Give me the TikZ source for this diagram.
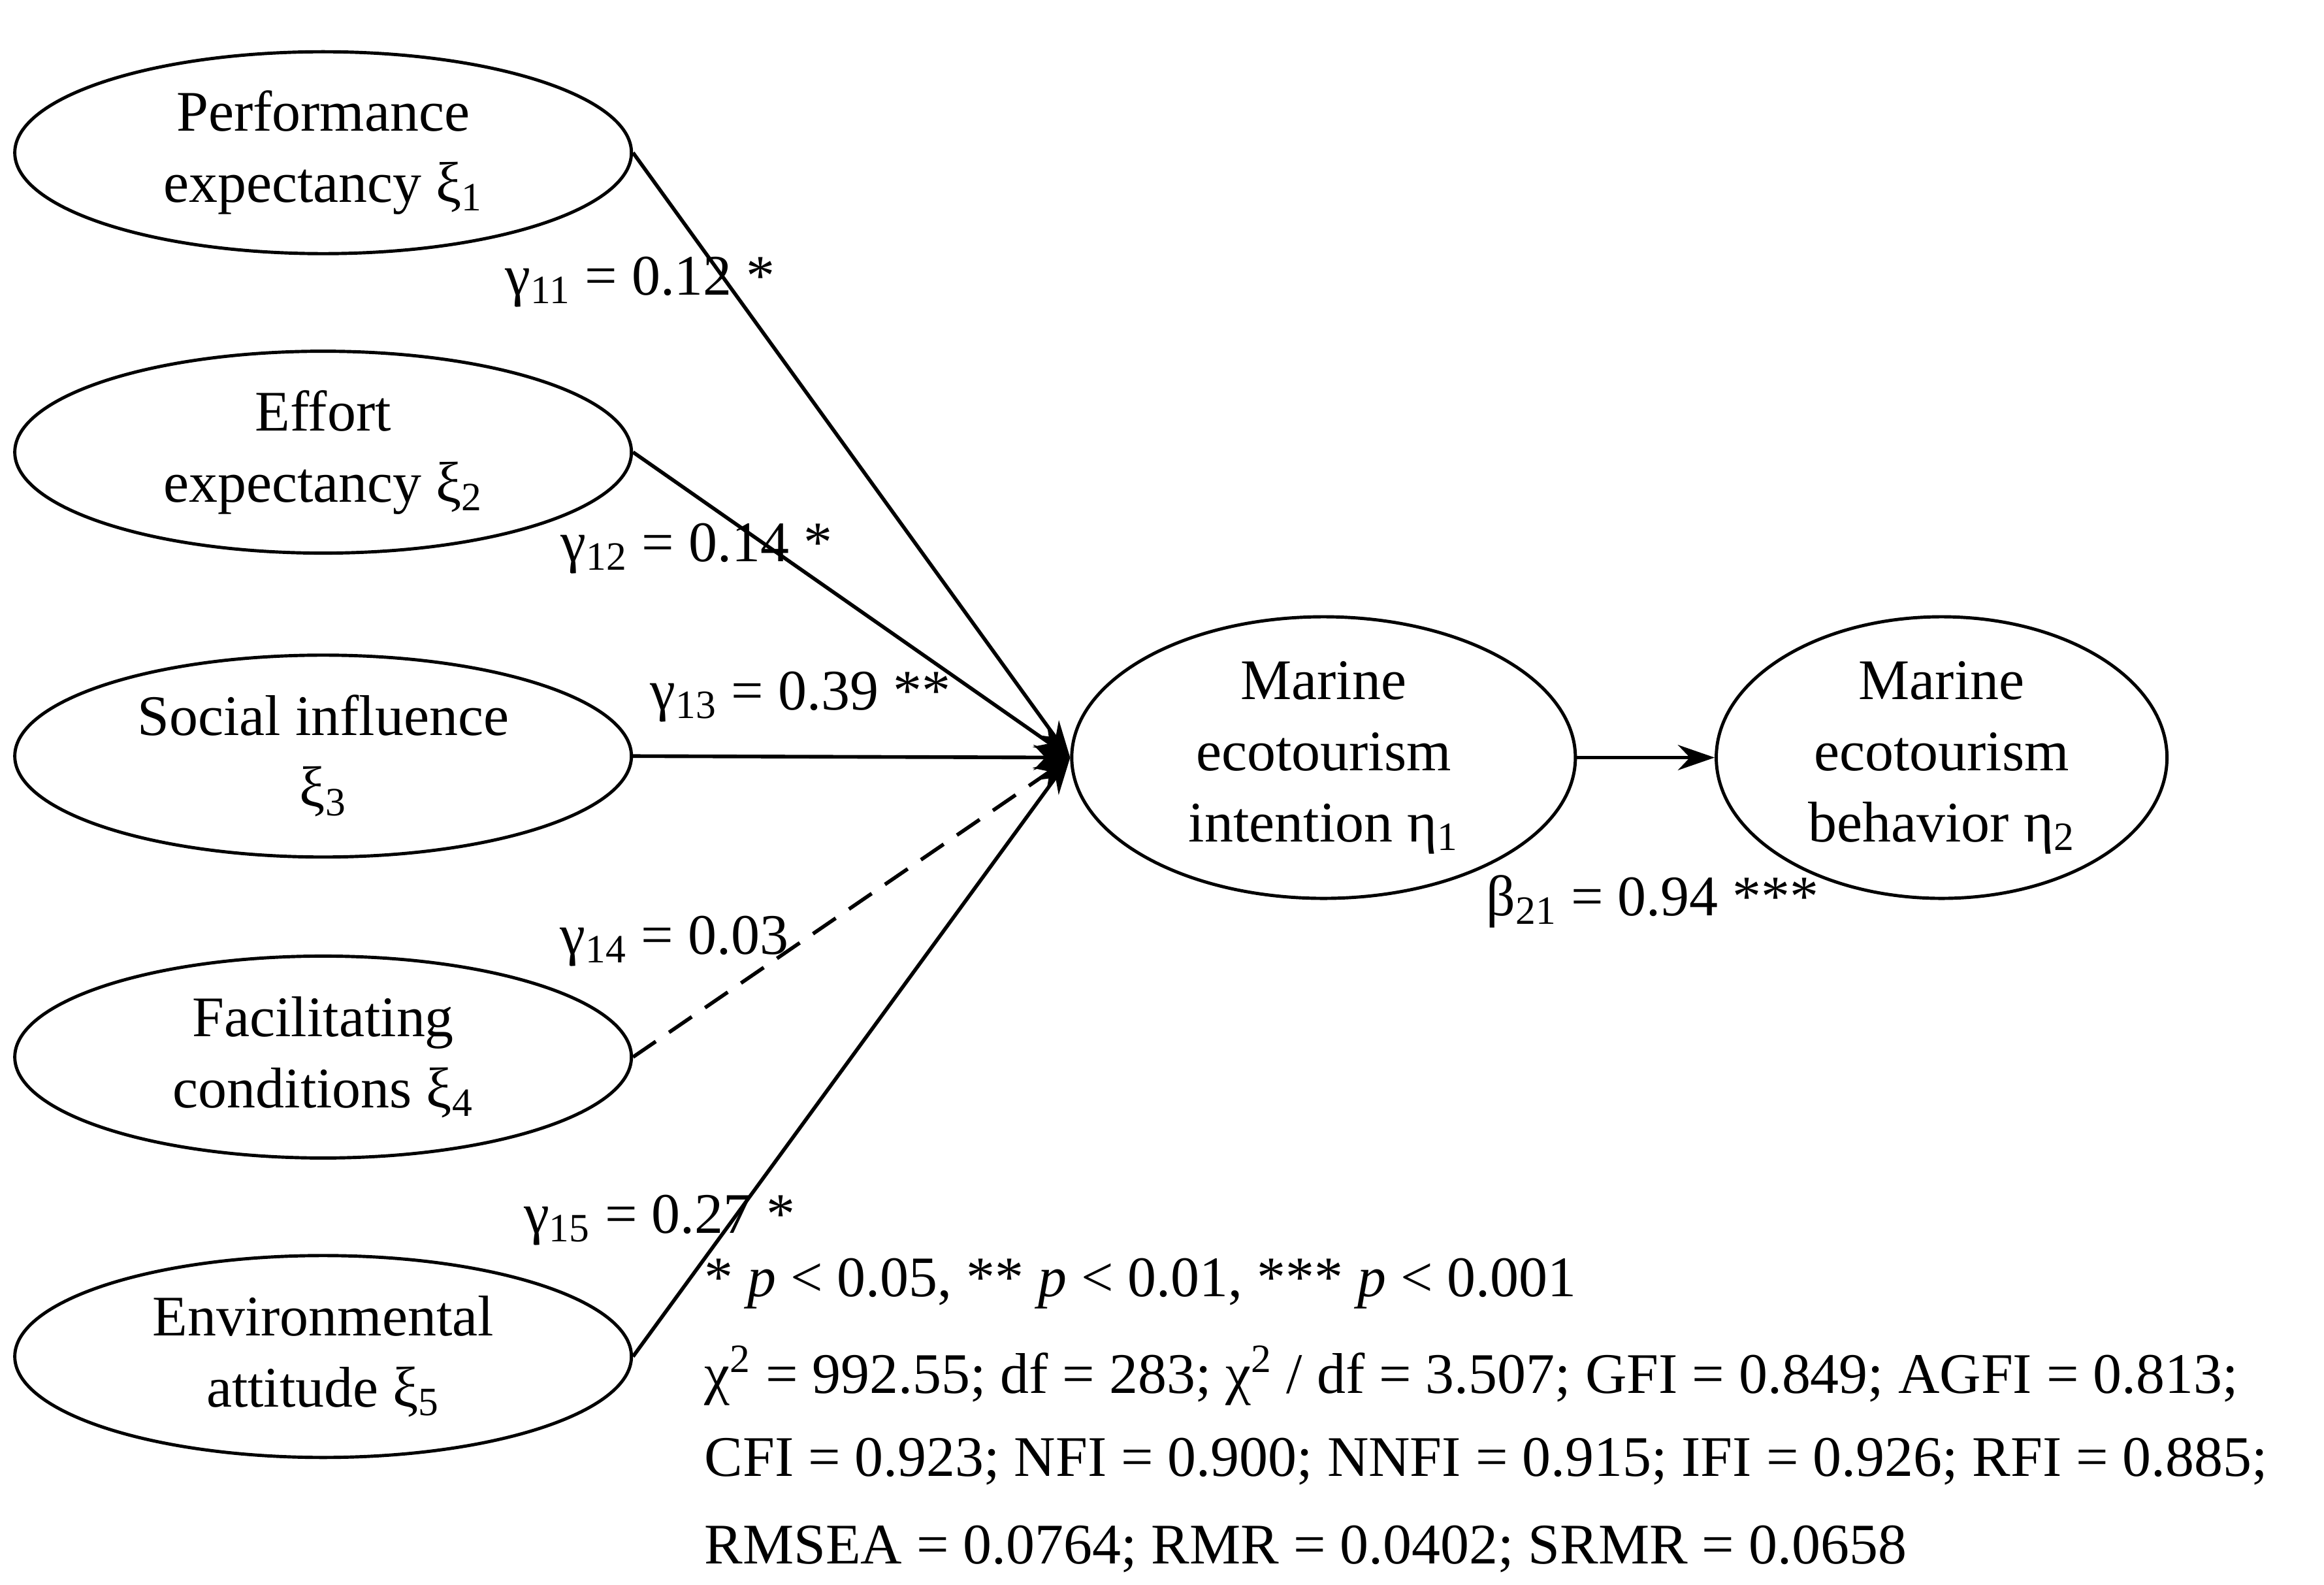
\documentclass[tikz,border=0pt]{standalone}
\usepackage{fontspec}
\setmainfont{Liberation Serif}
\usetikzlibrary{shapes.geometric,arrows.meta}
\begin{document}
\begin{tikzpicture}[x=0.02269cm,y=-0.02269cm,
  every node/.style={font=\fontsize{25}{31}\selectfont},
  lat/.style={draw,ellipse,line width=1.4pt,align=center,inner sep=0pt},
  left/.style={lat,minimum width=9.44cm,minimum height=3.09cm},
  path/.style={line width=1.6pt,-{Stealth[length=16pt,width=11pt]}},
  lab/.style={inner sep=0pt}]
\useasboundingbox (0,0) rectangle (1568,1069);
\node[left] (e1) at (218,103) {Performance\\expectancy ξ\textsubscript{1}};
\node[left] (e2) at (218,305) {Effort\\expectancy ξ\textsubscript{2}};
\node[left] (e3) at (218,510) {Social influence\\ξ\textsubscript{3}};
\node[left] (e4) at (218,713) {Facilitating\\conditions ξ\textsubscript{4}};
\node[left] (e5) at (218,915) {Environmental\\attitude ξ\textsubscript{5}};
\node[lat,minimum width=7.71cm,minimum height=4.31cm] (m) at (893,511) {Marine\\ecotourism\\intention η\textsubscript{1}};
\node[lat,minimum width=6.9cm,minimum height=4.31cm] (b) at (1310,511) {Marine\\ecotourism\\behavior η\textsubscript{2}};
\draw[path] (e1.east) -- (m.west);
\draw[path] (e2.east) -- (m.west);
\draw[path] (e3.east) -- (m.west);
\draw[path,dashed,dash pattern=on 12pt off 7pt] (e4.east) -- (m.west);
\draw[path] (e5.east) -- (m.west);
\draw[path] (m.east) -- (b.west);
\node[lab] (l1) at (432,190) {γ\textsubscript{11} = 0.12 *};
\node[lab] (l2) at (470,370) {γ\textsubscript{12} = 0.14 *};
\node[lab] (l3) at (540,470) {γ\textsubscript{13} = 0.39 **};
\node[lab] (l4) at (455,635) {γ\textsubscript{14} = 0.03};
\node[lab] (l5) at (445,823) {γ\textsubscript{15} = 0.27 *};
\node[lab] (l6) at (1115,608) {β\textsubscript{21} = 0.94 ***};
\node[lab,anchor=west] (n1) at (475,866) {* \textit{p} < 0.05, ** \textit{p} < 0.01, *** \textit{p} < 0.001};
\node[lab,anchor=west] (n2) at (475,928) {χ\textsuperscript{2} = 992.55; df = 283; χ\textsuperscript{2} / df = 3.507; GFI = 0.849; AGFI = 0.813;};
\node[lab,anchor=west] (n3) at (475,986) {CFI = 0.923; NFI = 0.900; NNFI = 0.915; IFI = 0.926; RFI = 0.885;};
\node[lab,anchor=west] (n4) at (475,1045) {RMSEA = 0.0764; RMR = 0.0402; SRMR = 0.0658};
\end{tikzpicture}
\end{document}
